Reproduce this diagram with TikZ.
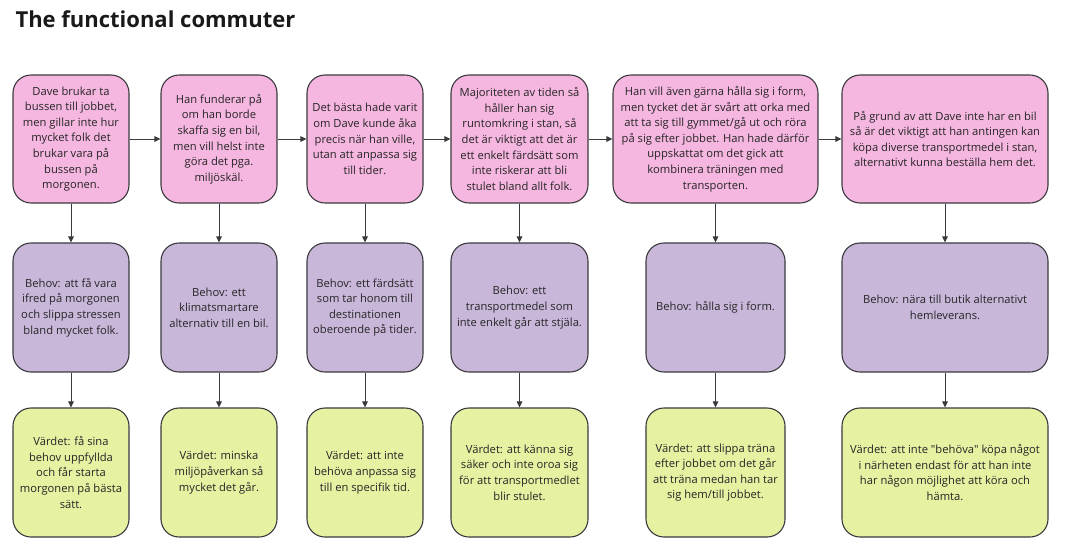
\documentclass[tikz,border=0pt]{standalone}
\usepackage{fontspec}
\setmainfont{Open Sans}
\newfontfamily\qf{Open Sans}
\newcommand{\sq}{{\qf\symbol{34}}}
\usetikzlibrary{arrows.meta}
\definecolor{pinkfill}{RGB}{245,182,224}
\definecolor{purplefill}{RGB}{201,183,218}
\definecolor{greenfill}{RGB}{230,241,162}
\definecolor{edgecol}{RGB}{58,58,62}
\tikzset{
  card/.style={draw=edgecol, line width=1.1pt, rounded corners=18pt, align=center,
    inner sep=2pt, font=\fontsize{11.2}{15.6}\selectfont, text=black!85},
  storybox/.style={card, fill=pinkfill, minimum height=128pt},
  needbox/.style={card, fill=purplefill, minimum height=129pt},
  valuebox/.style={card, fill=greenfill, minimum height=129pt},
  conn/.style={draw=edgecol, line width=1pt, -{Triangle[length=6pt,width=5.5pt]}}
}
\begin{document}
\begin{tikzpicture}[x=1pt,y=-1pt]
\useasboundingbox (0,0) rectangle (1065,550);
\node[anchor=base west, font=\fontsize{22}{26}\selectfont\bfseries, text=black!90] (title) at (12,27) {The functional commuter};

% row 1
\node[storybox, minimum width=116pt] (s1) at (71,139) {Dave brukar ta\\bussen till jobbet,\\men gillar inte hur\\mycket folk det\\brukar vara på\\bussen på\\morgonen.};
\node[storybox, minimum width=116pt] (s2) at (219,139) {Han funderar på\\om han borde\\skaffa sig en bil,\\men vill helst inte\\göra det pga.\\miljöskäl.};
\node[storybox, minimum width=116pt] (s3) at (365,139) {Det bästa hade varit\\om Dave kunde åka\\precis när han ville,\\utan att anpassa sig\\till tider.};
\node[storybox, minimum width=137pt] (s4) at (519.5,139) {Majoriteten av tiden så\\håller han sig\\runtomkring i stan, så\\det är viktigt att det är\\ett enkelt färdsätt som\\inte riskerar att bli\\stulet bland allt folk.};
\node[storybox, minimum width=205pt] (s5) at (715.5,139) {Han vill även gärna hålla sig i form,\\men tycket det är svårt att orka med\\att ta sig till gymmet/gå ut och röra\\på sig efter jobbet. Han hade därför\\uppskattat om det gick att\\kombinera träningen med\\transporten.};
\node[storybox, minimum width=206pt] (s6) at (945,139) {På grund av att Dave inte har en bil\\så är det viktigt att han antingen kan\\köpa diverse transportmedel i stan,\\alternativt kunna beställa hem det.};

% row 2
\node[needbox, minimum width=116pt] (n1) at (71,307.5) {Behov: att få vara\\ifred på morgonen\\och slippa stressen\\bland mycket folk.};
\node[needbox, minimum width=116pt] (n2) at (219,307.5) {Behov: ett\\klimatsmartare\\alternativ till en bil.};
\node[needbox, minimum width=116pt] (n3) at (365,307.5) {Behov: ett färdsätt\\som tar honom till\\destinationen\\oberoende på tider.};
\node[needbox, minimum width=137pt] (n4) at (519.5,307.5) {Behov: ett\\transportmedel som\\inte enkelt går att stjäla.};
\node[needbox, minimum width=139pt] (n5) at (715.5,307.5) {Behov: hålla sig i form.};
\node[needbox, minimum width=206pt] (n6) at (945,307.5) {Behov: nära till butik alternativt\\hemleverans.};

% row 3
\node[valuebox, minimum width=116pt] (v1) at (71,472.5) {Värdet: få sina\\behov uppfyllda\\och får starta\\morgonen på bästa\\sätt.};
\node[valuebox, minimum width=116pt] (v2) at (219,472.5) {Värdet: minska\\miljöpåverkan så\\mycket det går.};
\node[valuebox, minimum width=116pt] (v3) at (365,472.5) {Värdet: att inte\\behöva anpassa sig\\till en specifik tid.};
\node[valuebox, minimum width=137pt] (v4) at (519.5,472.5) {Värdet: att känna sig\\säker och inte oroa sig\\för att transportmedlet\\blir stulet.};
\node[valuebox, minimum width=139pt] (v5) at (715.5,472.5) {Värdet: att slippa träna\\efter jobbet om det går\\att träna medan han tar\\sig hem/till jobbet.};
\node[valuebox, minimum width=206pt] (v6) at (945,472.5) {Värdet: att inte \sq behöva\sq{} köpa något\\i närheten endast för att han inte\\har någon möjlighet att köra och\\hämta.};

% horizontal connectors
\foreach \a/\b in {s1/s2,s2/s3,s3/s4,s4/s5,s5/s6} \draw[conn] (\a.east) -- (\b.west);
% vertical connectors
\foreach \i in {1,...,6} {
  \draw[conn] (s\i.south) -- (n\i.north);
  \draw[conn] (n\i.south) -- (v\i.north);
}
\end{tikzpicture}
\end{document}
